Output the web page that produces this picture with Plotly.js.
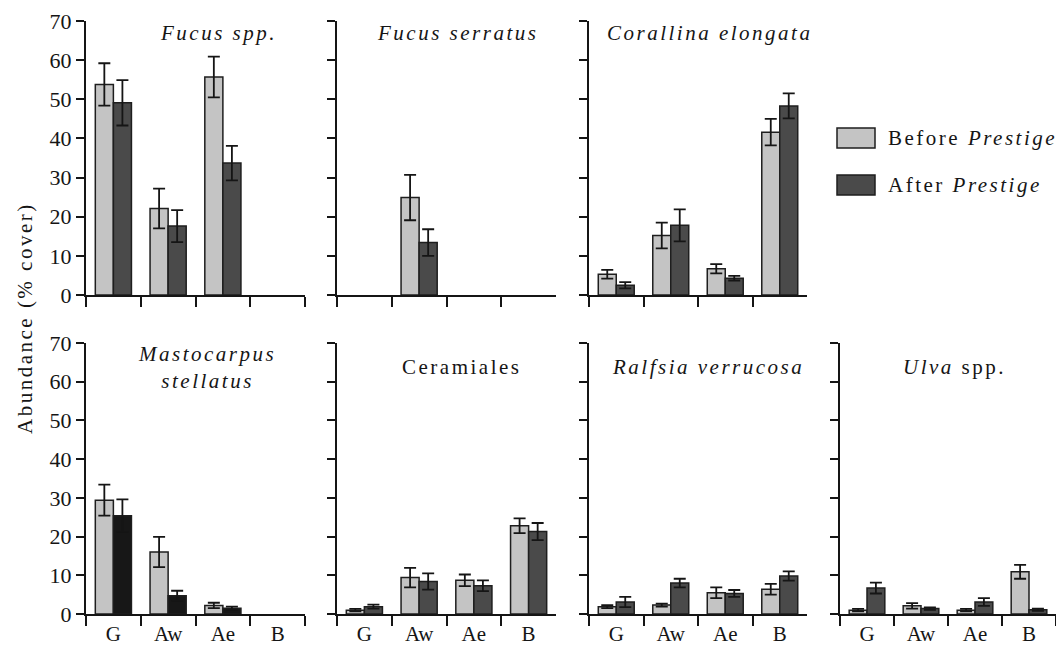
<!DOCTYPE html>
<html>
<head>
<meta charset="utf-8">
<script src="https://cdn.plot.ly/plotly-3.0.1.min.js"></script>
<style>
  html, body { margin: 0; padding: 0; background: #fff; }
  #chart { width: 1056px; height: 646px; }
  #chart svg text { font-family: "Liberation Serif", "Times New Roman", Times, Tinos, "Noto Serif", "DejaVu Serif", FreeSerif, "Nimbus Roman", "Nimbus Roman No9 L", Georgia, serif !important; }
  .annotation-text { letter-spacing: 2.5px; }
  .xtick text { letter-spacing: 2.5px; }
</style>
</head>
<body>
<div id="chart"></div>
<script>
// ---- Data ----
const categories = ['G', 'Aw', 'Ae', 'B'];
const yTickValues = [0, 10, 20, 30, 40, 50, 60, 70];

const panelTitles = [
  '<i>Fucus spp.</i>',
  '<i>Fucus serratus</i>',
  '<i>Corallina elongata</i>',
  '<i>Mastocarpus</i><br><i>stellatus</i>',
  'Ceramiales',
  '<i>Ralfsia verrucosa</i>',
  '<i>Ulva</i> spp.'
];

const fucusSppBefore      = [53.8, 22.1, 55.7, null];
const fucusSppBeforeErr   = [5.4, 5.1, 5.2, null];
const fucusSppAfter       = [49.1, 17.6, 33.7, null];
const fucusSppAfterErr    = [5.8, 4.1, 4.4, null];

const fucusSerratusBefore    = [null, 24.9, null, null];
const fucusSerratusBeforeErr = [null, 5.8, null, null];
const fucusSerratusAfter     = [null, 13.4, null, null];
const fucusSerratusAfterErr  = [null, 3.4, null, null];

const corallinaBefore    = [5.3, 15.2, 6.7, 41.6];
const corallinaBeforeErr = [1.1, 3.3, 1.2, 3.4];
const corallinaAfter     = [2.5, 17.8, 4.3, 48.3];
const corallinaAfterErr  = [0.8, 4.1, 0.6, 3.2];

const mastocarpusBefore    = [29.4, 16.0, 2.2, null];
const mastocarpusBeforeErr = [4.0, 3.9, 0.7, null];
const mastocarpusAfter     = [25.4, 4.7, 1.5, null];
const mastocarpusAfterErr  = [4.2, 1.3, 0.4, null];

const ceramialesBefore    = [1.0, 9.4, 8.7, 22.8];
const ceramialesBeforeErr = [0.3, 2.5, 1.5, 1.9];
const ceramialesAfter     = [1.9, 8.4, 7.3, 21.3];
const ceramialesAfterErr  = [0.5, 2.1, 1.4, 2.2];

const ralfsiaBefore    = [1.9, 2.3, 5.5, 6.4];
const ralfsiaBeforeErr = [0.4, 0.4, 1.4, 1.4];
const ralfsiaAfter     = [3.1, 8.0, 5.3, 9.8];
const ralfsiaAfterErr  = [1.3, 1.1, 0.9, 1.2];

const ulvaBefore    = [1.0, 2.1, 1.0, 10.9];
const ulvaBeforeErr = [0.3, 0.7, 0.3, 1.8];
const ulvaAfter     = [6.7, 1.4, 3.1, 1.1];
const ulvaAfterErr  = [1.4, 0.3, 1.0, 0.3];

// ---- Styling ----
const W = 1056, H = 646;
const BEFORE_COLOR = '#c4c4c4';
const AFTER_COLOR = '#4a4a4a';
const AFTER_DARK = '#171717';
const EDGE = '#1e1e1e';
const INK = '#151515';
const FONT = 'Liberation Serif';

const panels = [
  { b: fucusSppBefore, be: fucusSppBeforeErr, a: fucusSppAfter, ae: fucusSppAfterErr, afterColor: AFTER_COLOR },
  { b: fucusSerratusBefore, be: fucusSerratusBeforeErr, a: fucusSerratusAfter, ae: fucusSerratusAfterErr, afterColor: AFTER_COLOR },
  { b: corallinaBefore, be: corallinaBeforeErr, a: corallinaAfter, ae: corallinaAfterErr, afterColor: AFTER_COLOR },
  { b: mastocarpusBefore, be: mastocarpusBeforeErr, a: mastocarpusAfter, ae: mastocarpusAfterErr, afterColor: AFTER_DARK },
  { b: ceramialesBefore, be: ceramialesBeforeErr, a: ceramialesAfter, ae: ceramialesAfterErr, afterColor: AFTER_COLOR },
  { b: ralfsiaBefore, be: ralfsiaBeforeErr, a: ralfsiaAfter, ae: ralfsiaAfterErr, afterColor: AFTER_COLOR },
  { b: ulvaBefore, be: ulvaBeforeErr, a: ulvaAfter, ae: ulvaAfterErr, afterColor: AFTER_COLOR }
];

// pixel geometry of the panels [left, right] and rows [top, bottom]
const colPx = [[86, 305], [337, 556], [589, 807], [840, 1056]];
const rowPx = [[21, 295], [343, 614]];
// panel i -> (row, col)
const pos = [[0, 0], [0, 1], [0, 2], [1, 0], [1, 1], [1, 2], [1, 3]];
const titleCx = [218, 457, 709, 207, 461, 708, 954];
const titleCy = [33, 33, 33, 367, 367, 367, 367];

const px2x = p => p / W;
const px2y = p => (H - p) / H;

const traces = [];
const layout = {
  width: W, height: H,
  margin: { l: 0, r: 0, t: 0, b: 0 },
  paper_bgcolor: '#ffffff',
  plot_bgcolor: '#ffffff',
  showlegend: false,
  barmode: 'group',
  bargap: 0.34,
  bargroupgap: 0,
  font: { family: FONT, color: INK, size: 21 },
  annotations: [],
  shapes: []
};

panels.forEach((p, i) => {
  const n = i + 1;
  const xa = n === 1 ? 'x' : 'x' + n;
  const ya = n === 1 ? 'y' : 'y' + n;
  const [r, c] = pos[i];
  const errStyle = { color: INK, thickness: 1.8, width: 6, visible: true, type: 'data', symmetric: true };
  traces.push({
    type: 'bar', x: categories, y: p.b, xaxis: xa, yaxis: ya, name: 'Before Prestige',
    marker: { color: BEFORE_COLOR, line: { color: EDGE, width: 1.5 } },
    error_y: Object.assign({ array: p.be }, errStyle),
    hoverinfo: 'x+y'
  });
  traces.push({
    type: 'bar', x: categories, y: p.a, xaxis: xa, yaxis: ya, name: 'After Prestige',
    marker: { color: p.afterColor, line: { color: EDGE, width: 1.5 } },
    error_y: Object.assign({ array: p.ae }, errStyle),
    hoverinfo: 'x+y'
  });

  const xKey = n === 1 ? 'xaxis' : 'xaxis' + n;
  const yKey = n === 1 ? 'yaxis' : 'yaxis' + n;
  layout[xKey] = {
    domain: [px2x(colPx[c][0]), px2x(colPx[c][1])],
    anchor: ya,
    type: 'category',
    categoryorder: 'array',
    categoryarray: categories,
    range: [-0.5, 3.5],
    showline: true, linecolor: INK, linewidth: 2,
    ticks: 'outside', tickson: 'boundaries', ticklen: 10, tickwidth: 2, tickcolor: INK,
    showticklabels: r === 1,
    ticklabelstandoff: 0,
    tickfont: { family: FONT, size: 21, color: INK },
    showgrid: false, zeroline: false, fixedrange: true
  };
  layout[yKey] = {
    domain: [px2y(rowPx[r][1]), px2y(rowPx[r][0])],
    anchor: xa,
    range: [0, 70],
    tickvals: yTickValues,
    showline: true, linecolor: INK, linewidth: 2,
    ticks: 'outside', ticklen: 8, tickwidth: 2, tickcolor: INK,
    showticklabels: c === 0,
    tickfont: { family: FONT, size: 22, color: INK },
    showgrid: false, zeroline: false, fixedrange: true
  };

  layout.annotations.push({
    text: panelTitles[i], xref: 'paper', yref: 'paper',
    x: px2x(titleCx[i]), y: px2y(titleCy[i]),
    xanchor: 'center', yanchor: 'middle', showarrow: false,
    font: { family: FONT, size: 21, color: INK }
  });
});

// y-axis title shared by both rows
layout.annotations.push({
  text: 'Abundance (% cover)', xref: 'paper', yref: 'paper',
  x: px2x(25), y: px2y(318), xanchor: 'center', yanchor: 'middle',
  textangle: -90, showarrow: false,
  font: { family: FONT, size: 21, color: INK }
});

// legend (boxes + text)
const legendItems = [
  { label: 'Before <i>Prestige</i>', color: BEFORE_COLOR, top: 128 },
  { label: 'After <i>Prestige</i>', color: AFTER_COLOR, top: 175 }
];
legendItems.forEach(it => {
  layout.shapes.push({
    type: 'rect', xref: 'paper', yref: 'paper',
    x0: px2x(837), x1: px2x(875), y0: px2y(it.top + 20), y1: px2y(it.top),
    fillcolor: it.color, line: { color: EDGE, width: 1.5 }
  });
  layout.annotations.push({
    text: it.label, xref: 'paper', yref: 'paper',
    x: px2x(886), y: px2y(it.top + 10), xanchor: 'left', yanchor: 'middle',
    showarrow: false, font: { family: FONT, size: 21, color: INK }
  });
});

Plotly.newPlot('chart', traces, layout, { staticPlot: true, displayModeBar: false });
</script>
</body>
</html>
